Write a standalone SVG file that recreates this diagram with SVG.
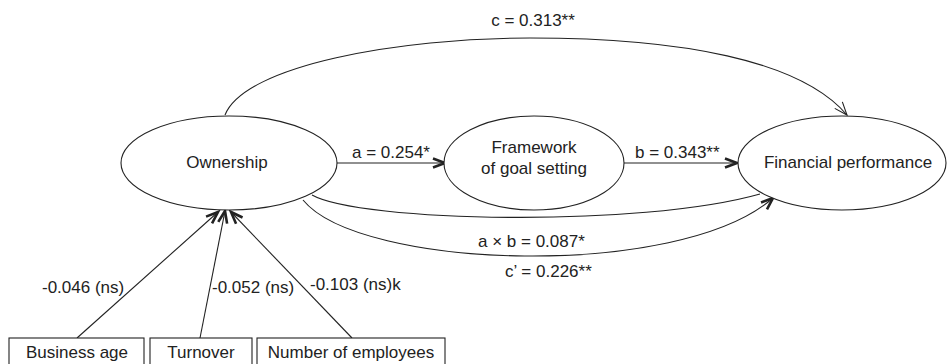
<svg xmlns="http://www.w3.org/2000/svg" width="947" height="364" viewBox="0 0 947 364">
<style>
text{font-family:"Liberation Sans",Arial,sans-serif;font-size:17px;fill:#222}
.n{fill:#fff;stroke:#222;stroke-width:1.1}
.e{fill:none;stroke:#222;stroke-width:1.1}
.m{text-anchor:middle}
</style>
<defs>
<marker id="ab" markerUnits="userSpaceOnUse" markerWidth="16" markerHeight="14" refX="13" refY="6" orient="auto" overflow="visible">
<path d="M1,1.5 L13,6 L1,10.5" fill="none" stroke="#222" stroke-width="2.6" stroke-linejoin="miter"/>
</marker>
<marker id="at" markerUnits="userSpaceOnUse" markerWidth="16" markerHeight="14" refX="13" refY="6" orient="auto" overflow="visible">
<path d="M0,1 L13,6 L0,11" fill="none" stroke="#222" stroke-width="1.1"/>
</marker>
</defs>
<g id="connectors">
<path class="e" d="M225,115 C245,65 400,38 530,38 C680,38 800,60 847,115" marker-end="url(#at)"/>
<line class="e" x1="337" y1="163" x2="445" y2="163" marker-end="url(#ab)"/>
<line class="e" x1="624" y1="163" x2="737" y2="163" marker-end="url(#ab)"/>
<path class="e" d="M312,195 C360,222 640,228 760,194"/>
<path class="e" d="M303,200 C360,270 680,280 773,198" marker-end="url(#ab)"/>
<line class="e" x1="77" y1="338" x2="218" y2="212" marker-end="url(#ab)"/>
<line class="e" x1="200" y1="338" x2="225" y2="211" marker-end="url(#ab)"/>
<line class="e" x1="352" y1="338" x2="231" y2="212" marker-end="url(#ab)"/>
</g>
<g id="labels">
<text class="m" x="533" y="26">c = 0.313**</text>
<text x="352" y="158">a = 0.254*</text>
<text x="635" y="158">b = 0.343**</text>
<text x="478" y="247">a × b = 0.087*</text>
<text x="505" y="277">c’ = 0.226**</text>
<text x="42" y="293">-0.046 (ns)</text>
<text x="212" y="293">-0.052 (ns)</text>
<text x="310" y="290">-0.103 (ns)k</text>
</g>
<g id="ownership">
<ellipse class="n" cx="229" cy="163" rx="108" ry="47"/>
<text class="m" x="227" y="168">Ownership</text>
</g>
<g id="framework">
<ellipse class="n" cx="534" cy="163" rx="90" ry="47"/>
<text class="m" x="534" y="153">Framework</text>
<text class="m" x="534" y="174">of goal setting</text>
</g>
<g id="financial">
<ellipse class="n" cx="842" cy="163" rx="104" ry="47"/>
<text class="m" x="848" y="168">Financial performance</text>
</g>
<g id="business-age">
<rect class="n" x="9" y="338" width="135" height="30"/>
<text class="m" x="77" y="358">Business age</text>
</g>
<g id="turnover">
<rect class="n" x="150" y="338" width="102" height="30"/>
<text class="m" x="201" y="358">Turnover</text>
</g>
<g id="employees">
<rect class="n" x="257" y="338" width="188" height="30"/>
<text class="m" x="351" y="358">Number of employees</text>
</g>
</svg>
